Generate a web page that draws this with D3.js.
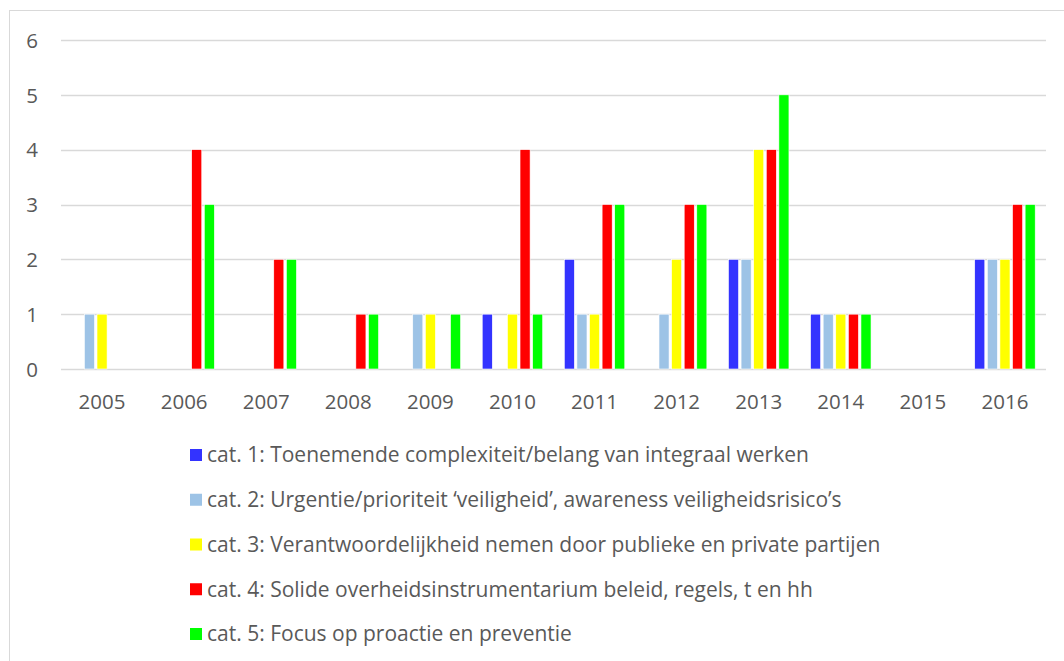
<!DOCTYPE html>
<html>
<head>
<meta charset="utf-8">
<script src="https://cdn.jsdelivr.net/npm/d3@7"></script>
<style>
  html, body { margin: 0; padding: 0; background: #fff; }
  svg { display: block; }
  text { font-family: "Open Sans", sans-serif; fill: #595959; }
</style>
</head>
<body>
<svg id="chart" width="1064" height="661"></svg>
<script>
const years = ["2005","2006","2007","2008","2009","2010","2011","2012","2013","2014","2015","2016"];
const seriesNames = [
  "cat. 1: Toenemende complexiteit/belang van integraal werken",
  "cat. 2: Urgentie/prioriteit \u2018veiligheid\u2019, awareness veiligheidsrisico\u2019s",
  "cat. 3: Verantwoordelijkheid nemen door publieke en private partijen",
  "cat. 4: Solide overheidsinstrumentarium beleid, regels, t en hh",
  "cat. 5: Focus op proactie en preventie"
];
const cat1 = [0,0,0,0,0,1,2,0,2,1,0,2];
const cat2 = [1,0,0,0,1,0,1,1,2,1,0,2];
const cat3 = [1,0,0,0,1,1,1,2,4,1,0,2];
const cat4 = [0,4,2,1,0,4,3,3,4,1,0,3];
const cat5 = [0,3,2,1,1,1,3,3,5,1,0,3];
const yTicks = [0,1,2,3,4,5,6];
const colors = ["#3333FF","#9DC3E6","#FFFF00","#FF0000","#00FF00"];

const seriesValues = [cat1, cat2, cat3, cat4, cat5];

const svg = d3.select("#chart");

svg.append("rect")
  .attr("x", 9.5).attr("y", 10.5)
  .attr("width", 1100).attr("height", 700)
  .attr("fill", "#fff").attr("stroke", "#d9d9d9").attr("stroke-width", 1);

const plot = { left: 61, right: 1046, top: 40, bottom: 369 };

const y = d3.scaleLinear().domain([0, 6]).range([plot.bottom, plot.top]);

const pIn = 0.2325;
const x0 = d3.scaleBand().domain(years)
  .range([plot.left, plot.right])
  .paddingInner(pIn).paddingOuter(pIn / 2);

const x1 = d3.scaleBand().domain(d3.range(seriesNames.length))
  .range([0, x0.bandwidth()])
  .paddingInner(0.2).paddingOuter(0.1);

svg.append("g")
  .selectAll("line")
  .data(yTicks)
  .join("line")
  .attr("x1", plot.left).attr("x2", plot.right)
  .attr("y1", d => Math.round(y(d)) + 0.5)
  .attr("y2", d => Math.round(y(d)) + 0.5)
  .attr("stroke", "#d9d9d9").attr("stroke-width", 1.3);

const yAxis = d3.axisLeft(y).tickValues(yTicks).tickSize(0).tickPadding(0).tickFormat(d3.format("d"));
svg.append("g")
  .attr("transform", `translate(${38},0)`)
  .call(yAxis)
  .call(g => g.select(".domain").remove())
  .call(g => g.selectAll("text")
    .attr("font-family", "Open Sans").attr("font-size", 20.5).attr("fill", "#595959")
    .attr("dy", "0.35em"));

const xAxis = d3.axisBottom(x0).tickSize(0).tickPadding(0);
svg.append("g")
  .attr("transform", `translate(0,${402})`)
  .call(xAxis)
  .call(g => g.select(".domain").remove())
  .call(g => g.selectAll("text")
    .attr("font-family", "Open Sans").attr("font-size", 20.5).attr("fill", "#595959")
    .attr("dy", "0.35em"));

const groups = svg.append("g")
  .selectAll("g")
  .data(years)
  .join("g")
  .attr("transform", d => `translate(${x0(d)},0)`);

groups.selectAll("rect")
  .data((d, i) => seriesValues.map((vals, s) => ({ s, v: vals[i] })).filter(e => e.v > 0))
  .join("rect")
  .attr("x", d => x1(d.s))
  .attr("width", x1.bandwidth())
  .attr("y", d => y(d.v))
  .attr("height", d => y(0) - y(d.v))
  .attr("fill", d => colors[d.s])
  .attr("stroke", "#fff").attr("stroke-width", 0.6);

const legendX = 190;
const legendY0 = 455;
const legendStep = 44.75;
const legend = svg.append("g")
  .selectAll("g")
  .data(seriesNames)
  .join("g")
  .attr("transform", (d, i) => `translate(${legendX},${legendY0 + i * legendStep})`);

legend.append("rect")
  .attr("x", 0).attr("y", -6).attr("width", 12).attr("height", 12)
  .attr("fill", (d, i) => colors[i]);

legend.append("text")
  .attr("x", 17).attr("y", 0).attr("dy", "0.35em")
  .attr("font-size", 21)
  .text(d => d);
</script>
</body>
</html>
